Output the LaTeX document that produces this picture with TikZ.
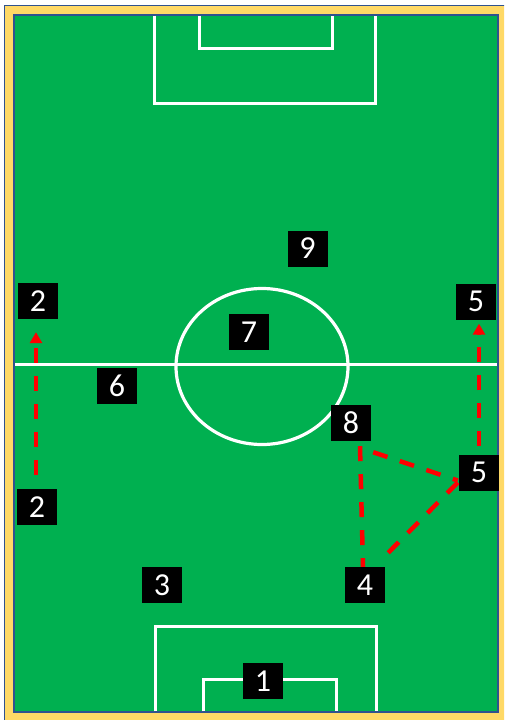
\documentclass[tikz,border=0pt]{standalone}
\usepackage{fontspec}
\setmainfont{Carlito}
\usetikzlibrary{arrows.meta}
\definecolor{pitch}{RGB}{0,176,80}
\definecolor{frameyellow}{RGB}{255,217,102}
\definecolor{frameblue}{RGB}{47,82,143}
\definecolor{runred}{RGB}{255,0,0}
\tikzset{
  player/.style={fill=black, text=white, minimum width=40pt, minimum height=36pt, inner sep=0pt, font=\fontsize{32}{32}\selectfont},
  pitchline/.style={draw=white, line width=3pt},
  run/.style={draw=runred, line width=4.5pt, dash pattern=on 15pt off 13pt},
  runarrow/.style={run, -{Triangle[width=12pt,length=11pt]}}
}
\begin{document}
\begin{tikzpicture}[x=1pt,y=-1pt]
\useasboundingbox (0,0) rectangle (504,720);
\clip (0,0) rectangle (504,720);
% frame
\draw[fill=frameyellow, draw=frameblue, line width=1.2pt] (4.5,5.5) rectangle (520,740);
\draw[fill=pitch, draw=frameblue, line width=1.2pt] (14,15) rectangle (498,712);
% markings
\draw[pitchline] (15,364) -- (497,364);
\draw[draw=white, line width=3.2pt] (262,366.5) ellipse [x radius=86, y radius=78];
\draw[pitchline] (154,15.6) -- (154,103) -- (375,103) -- (375,15.6);
\draw[pitchline] (199,15.6) -- (199,48) -- (332,48) -- (332,15.6);
\draw[pitchline] (155,711.4) -- (155,626) -- (376,626) -- (376,711.4);
\draw[pitchline] (203,711.4) -- (203,679) -- (336,679) -- (336,711.4);
% players
\node[player] (p9) at (307.5,248.5) {9};
\node[player] (p7) at (249,332) {7};
\node[player] (p2t) at (38,301) {2};
\node[player] (p5t) at (476,301.5) {5};
\node[player] (p6) at (117,386) {6};
\node[player] (p8) at (351,423) {8};
\node[player] (p5r) at (479,472.5) {5};
\node[player] (p2b) at (37,507) {2};
\node[player] (p3) at (162,585) {3};
\node[player] (p4) at (365,585) {4};
\node[player] (p1) at (263,681) {1};
% runs
\draw[runarrow, shorten <=14pt, shorten >=13pt] ([xshift=-1pt]p2b.north) -- ([xshift=-1pt]p2b.north |- p2t.south);
\draw[runarrow, shorten <=8pt, shorten >=4pt] (p5r.north) -- (p5r.north |- p5t.south);
\draw[run] ([xshift=9pt,yshift=-5pt]p8.south) -- ([xshift=-2pt]p4.north);
\draw[run] ([xshift=2pt,yshift=-11pt]p8.south east) -- ([xshift=-1pt,yshift=-8pt]p5r.west);
\draw[run] ([xshift=-1pt,yshift=-10pt]p5r.west) -- ([xshift=-1pt,yshift=10pt]p4.north east);
\end{tikzpicture}
\end{document}
